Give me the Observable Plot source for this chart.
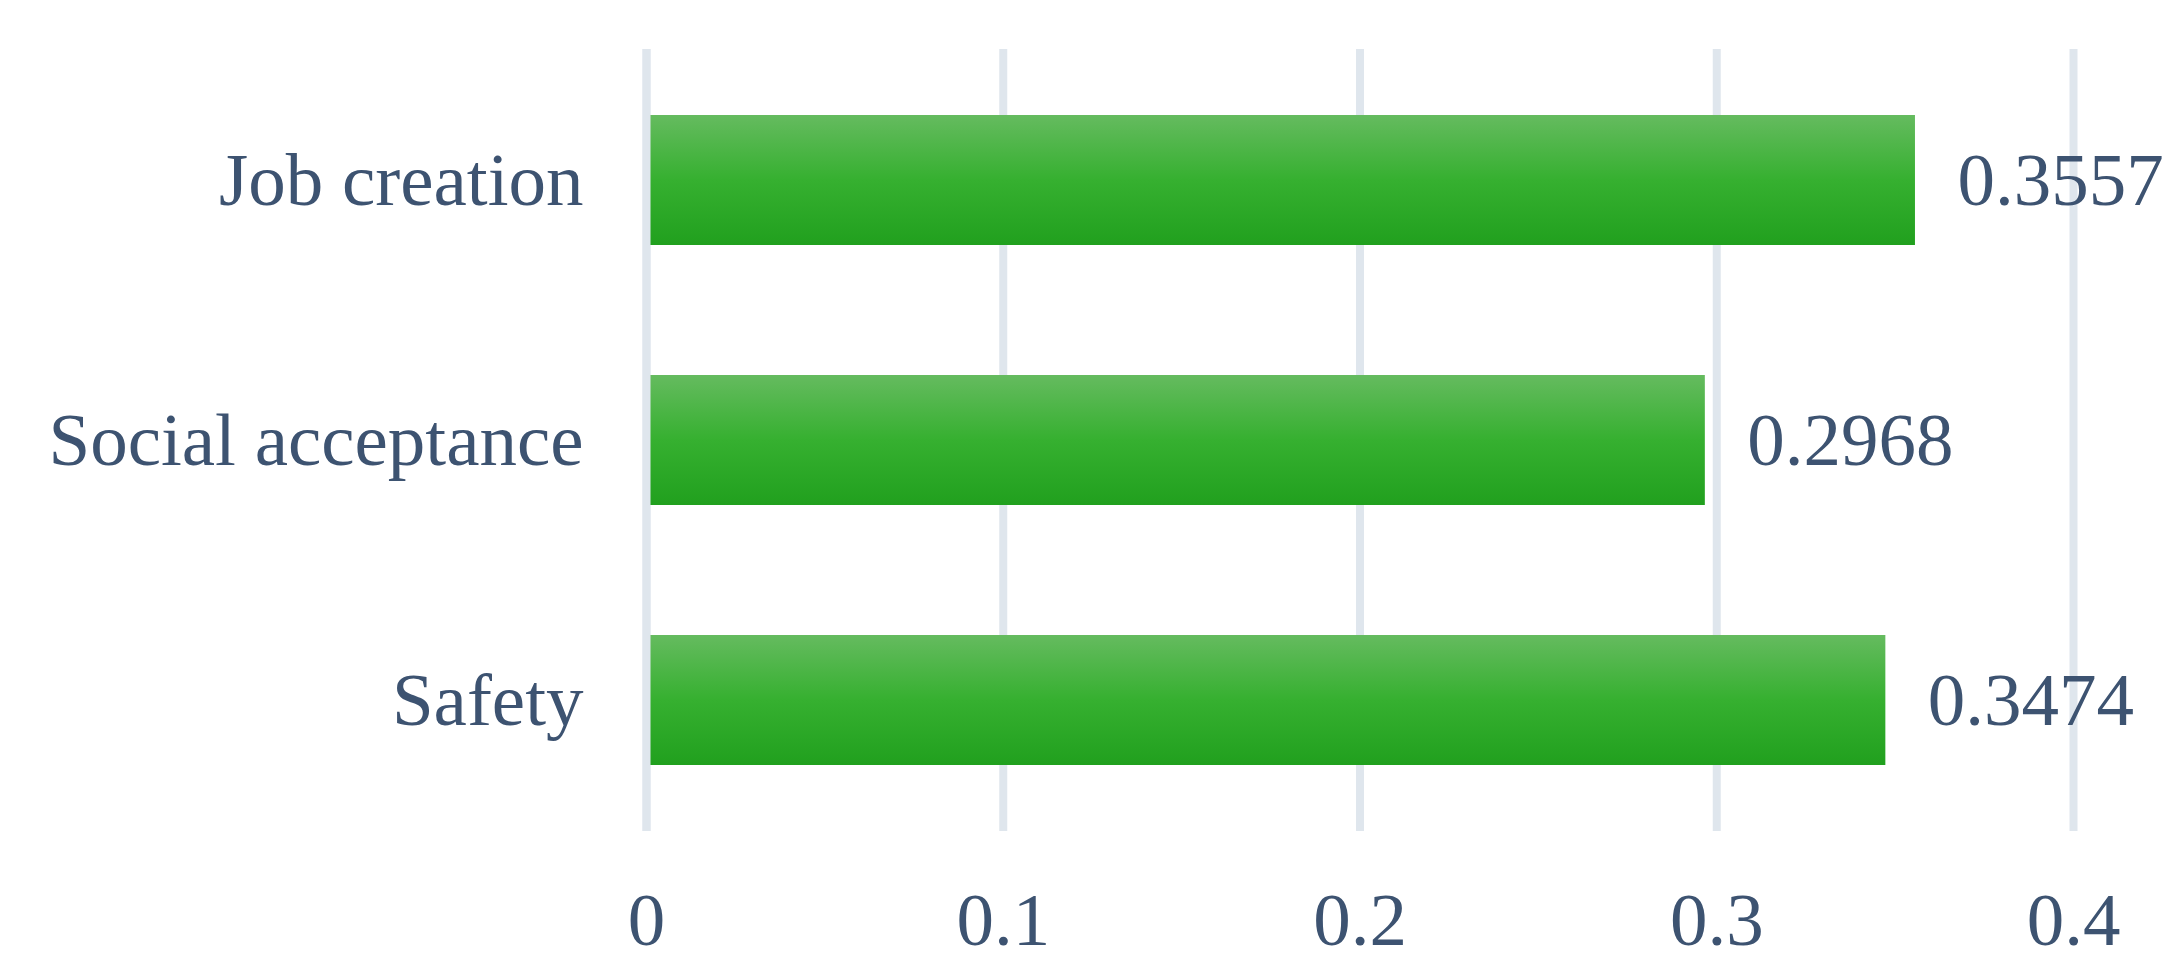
<!DOCTYPE html>
<html>
<head>
<meta charset="utf-8">
<script src="https://cdn.jsdelivr.net/npm/d3@7"></script>
<script src="https://cdn.jsdelivr.net/npm/@observablehq/plot@0.6"></script>
<style>
  html, body { margin: 0; padding: 0; background: #fff; }
  #chart svg { display: block; overflow: visible; }
</style>
</head>
<body>
<div id="chart"></div>
<script>
const categories = ["Job creation", "Social acceptance", "Safety"];
const values = [0.3557, 0.2968, 0.3474];
const valueLabels = ["0.3557", "0.2968", "0.3474"];
const xTicks = [0, 0.1, 0.2, 0.3, 0.4];
const xTickLabels = ["0", "0.1", "0.2", "0.3", "0.4"];

const data = categories.map((c, i) => ({category: c, value: values[i], label: valueLabels[i]}));

const textColor = "#3d5371";
const gridColor = "#dfe6ed";
const font = "'Liberation Serif', 'Times New Roman', serif";

const defs = () => {
  const d = d3.create("svg:defs");
  const g = d.append("linearGradient")
    .attr("id", "barGrad")
    .attr("x1", 0).attr("y1", 0).attr("x2", 0).attr("y2", 1);
  g.append("stop").attr("offset", "0%").attr("stop-color", "#65bb5f");
  g.append("stop").attr("offset", "50%").attr("stop-color", "#36b030");
  g.append("stop").attr("offset", "100%").attr("stop-color", "#21a01e");
  return d.node();
};

const chart = Plot.plot({
  width: 2174,
  height: 969,
  marginTop: 49,
  marginBottom: 138,
  marginLeft: 646,
  marginRight: 101,
  style: {fontFamily: font, fontSize: "75px", color: textColor, background: "#fff"},
  x: {domain: [0, 0.4], ticks: xTicks},
  y: {domain: categories, paddingInner: 0.5, paddingOuter: 0.25},
  marks: [
    defs,
    Plot.gridX(xTicks, {stroke: gridColor, strokeOpacity: 1, strokeWidth: 8}),
    Plot.barX(data, {x: "value", y: "category", fill: "url(#barGrad)"}),
    Plot.ruleX([0], {stroke: gridColor, strokeOpacity: 1, strokeWidth: 8}),
    Plot.text(data, {
      x: "value", y: "category", text: "label",
      textAnchor: "start", dx: 42, fill: textColor,
      fontSize: 75, fontFamily: font
    }),
    Plot.axisX(xTicks, {
      tickSize: 0, tickPadding: 60, fontSize: 75, fill: textColor,
      tickFormat: (d, i) => xTickLabels[i], label: null
    }),
    Plot.axisY({
      tickSize: 0, tickPadding: 63, fontSize: 75, fill: textColor, label: null
    })
  ]
});

document.getElementById("chart").appendChild(chart);
</script>
</body>
</html>
